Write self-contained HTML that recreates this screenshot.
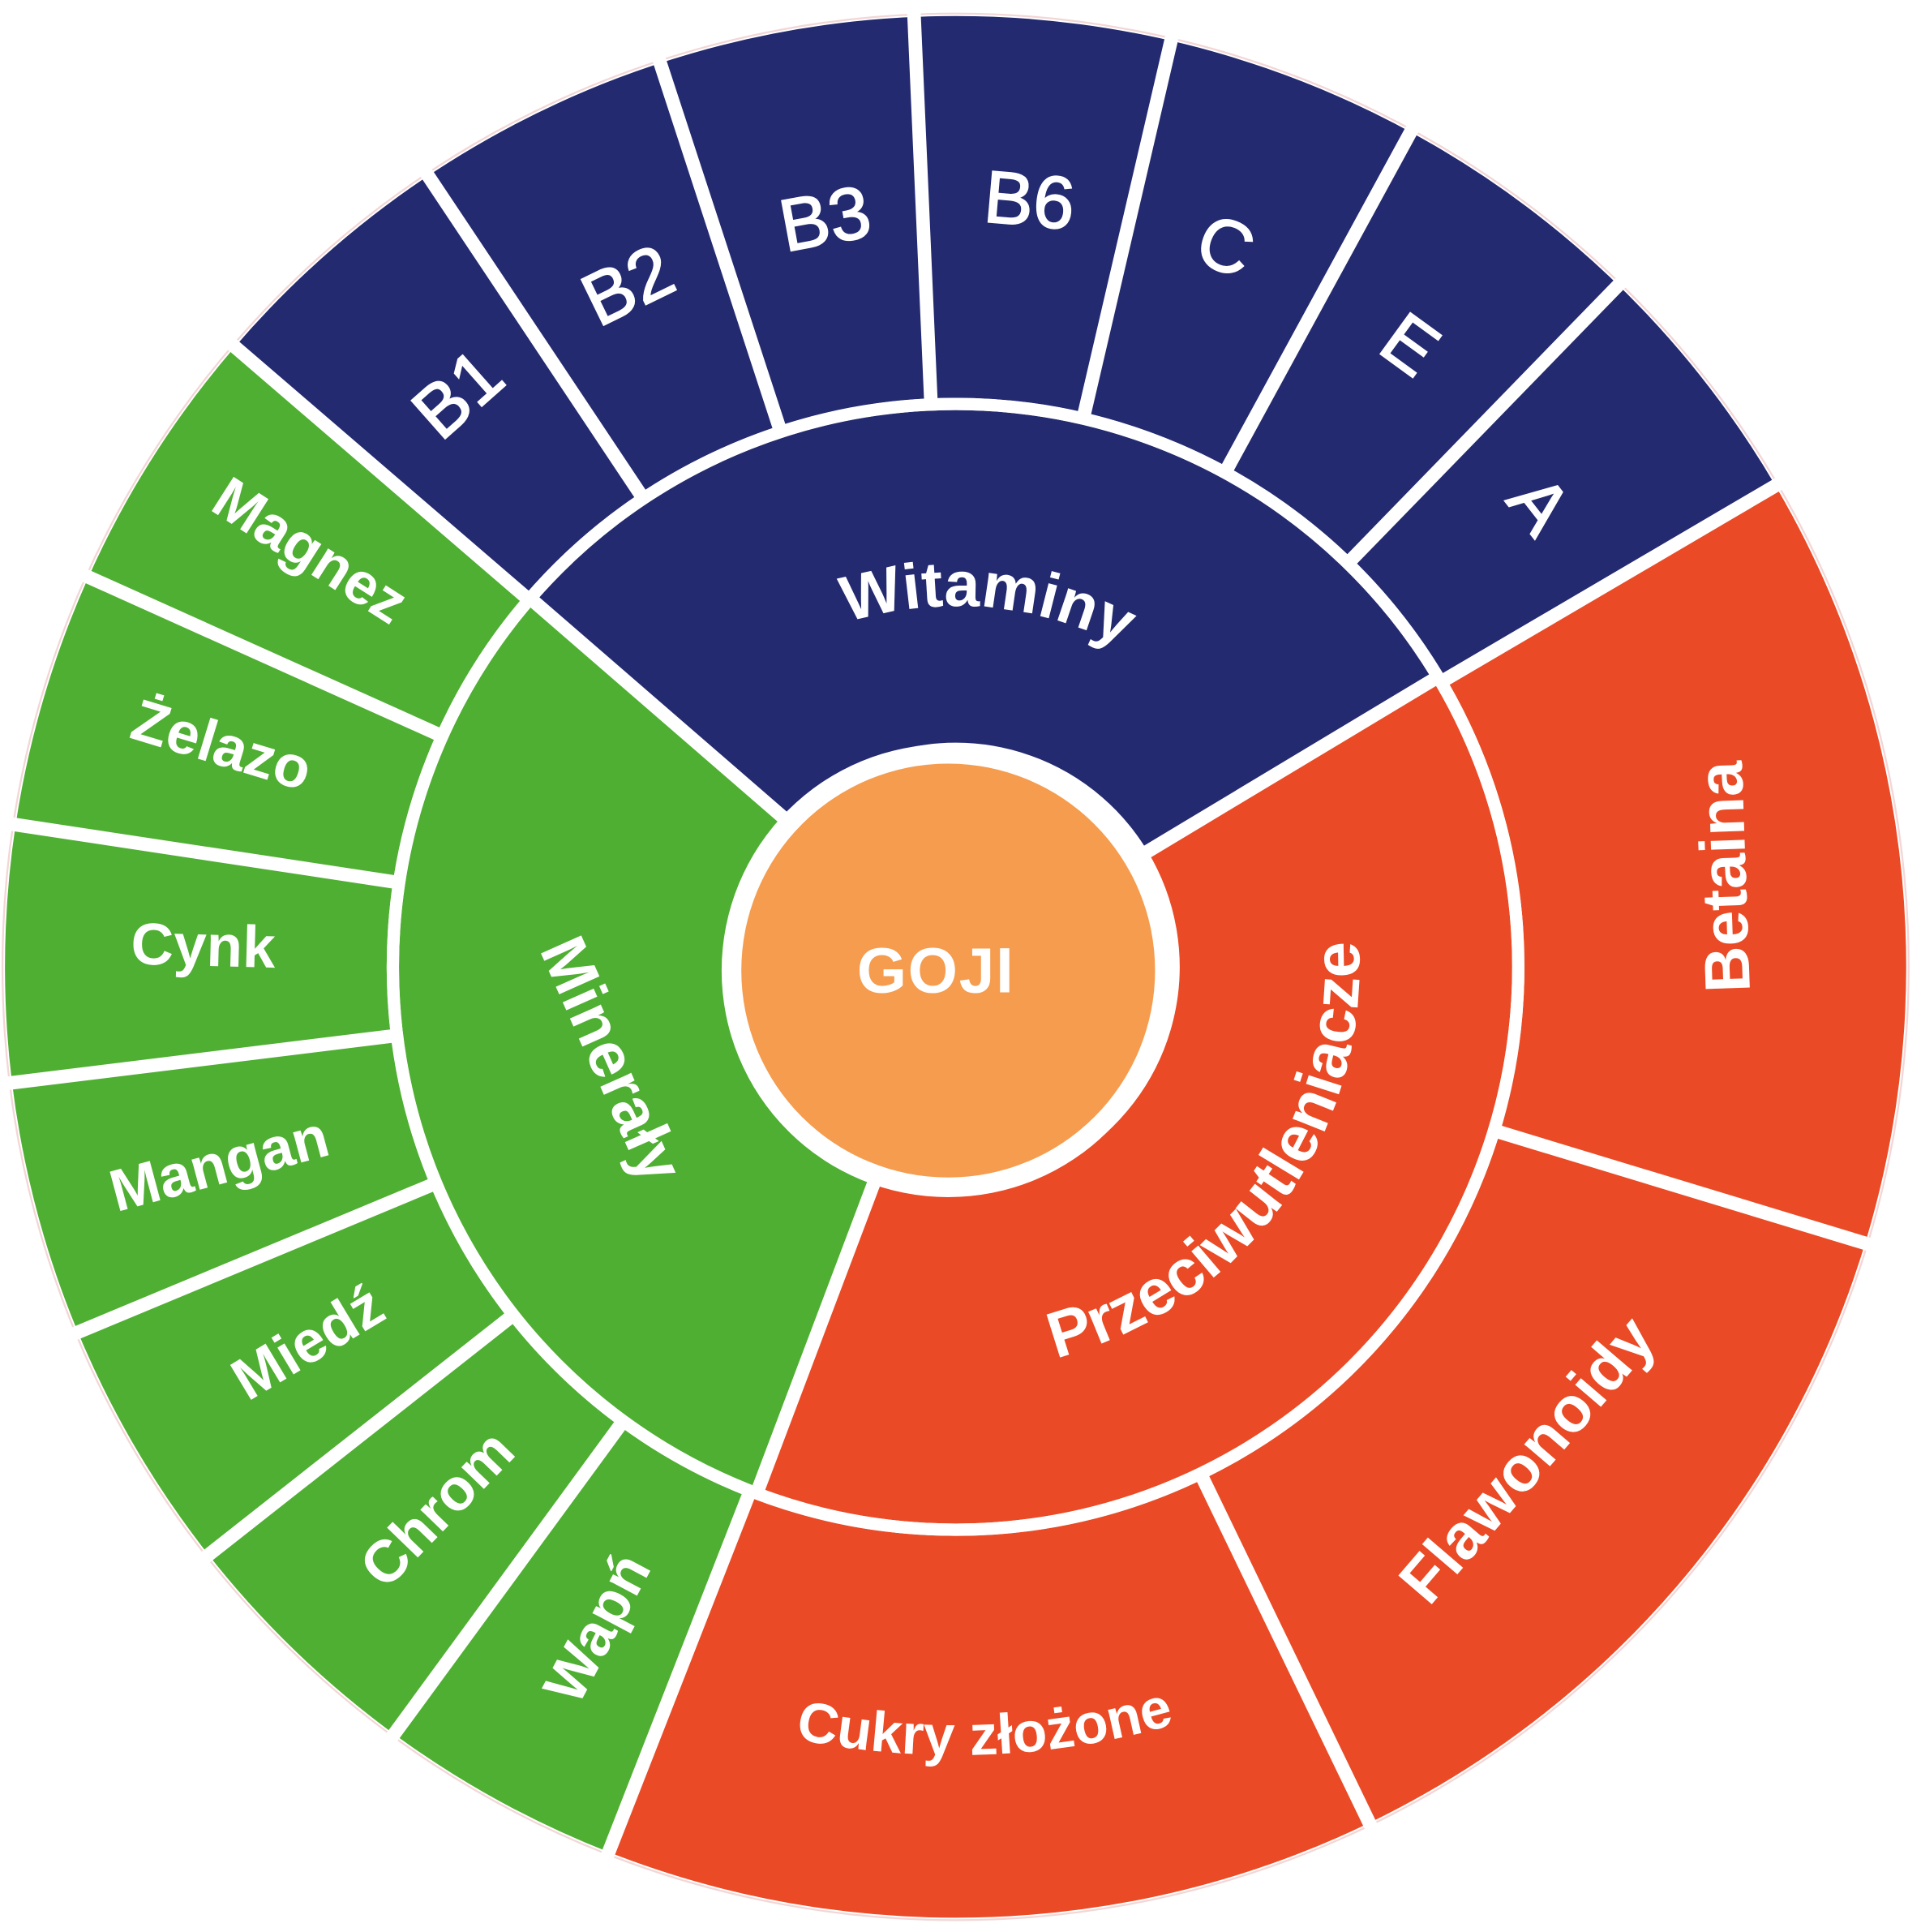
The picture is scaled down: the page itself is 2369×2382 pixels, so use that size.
<!DOCTYPE html>
<html><head><meta charset="utf-8"><style>
html,body{margin:0;padding:0;background:#fff;width:2369px;height:2382px;overflow:hidden;position:relative;}
svg{display:block;overflow:hidden;position:absolute;left:0;top:0;}
text{font-family:"Liberation Sans",sans-serif;fill:#fff;}
.b{font-weight:bold;}
.v{stroke:#fff;stroke-width:1.2;}
</style></head><body>
<svg width="2369" height="2380" viewBox="0 0 1560 1567.3" xmlns="http://www.w3.org/2000/svg">
<rect width="1560" height="1567.3" fill="#fff"/>
<g transform="translate(776,785)">
  <circle r="774" fill="#fff" stroke="#f3d6d6" stroke-width="1.5"/>
  <circle r="617" fill="none" stroke="#232a6f" stroke-width="310" pathLength="360" stroke-dasharray="108.9 360" transform="rotate(-139.3)"/>
  <circle r="617" fill="none" stroke="#ea4a25" stroke-width="310" pathLength="360" stroke-dasharray="141.8 360" transform="rotate(-30.4)"/>
  <circle r="617" fill="none" stroke="#4faf32" stroke-width="310" pathLength="360" stroke-dasharray="109.3 360" transform="rotate(111.4)"/>
  <circle r="317" fill="none" stroke="#232a6f" stroke-width="270" pathLength="360" stroke-dasharray="108.1 360" transform="rotate(-139.1)"/>
  <circle r="317" fill="none" stroke="#ea4a25" stroke-width="270" pathLength="360" stroke-dasharray="141.7 360" transform="rotate(-31)"/>
  <circle r="317" fill="none" stroke="#4faf32" stroke-width="270" pathLength="360" stroke-dasharray="110.2 360" transform="rotate(110.7)"/>
  <circle r="457" fill="none" stroke="#fff" stroke-width="10"/>
  <g stroke="#fff" stroke-width="11">
    <line x1="160" y1="0" x2="457" y2="0" transform="rotate(220.9)"/>
    <line x1="160" y1="0" x2="457" y2="0" transform="rotate(-31)"/>
    <line x1="160" y1="0" x2="457" y2="0" transform="rotate(110.7)"/>
    <line x1="455" y1="0" x2="780" y2="0" transform="rotate(220.7)"/>
    <line x1="455" y1="0" x2="780" y2="0" transform="rotate(-30.4)"/>
    <line x1="455" y1="0" x2="780" y2="0" transform="rotate(111.4)"/>
    <line x1="455" y1="0" x2="780" y2="0" transform="rotate(-123.7)"/>
    <line x1="455" y1="0" x2="780" y2="0" transform="rotate(-108.1)"/>
    <line x1="455" y1="0" x2="780" y2="0" transform="rotate(-92.5)"/>
    <line x1="455" y1="0" x2="780" y2="0" transform="rotate(-76.9)"/>
    <line x1="455" y1="0" x2="780" y2="0" transform="rotate(-61.4)"/>
    <line x1="455" y1="0" x2="780" y2="0" transform="rotate(-45.8)"/>
    <line x1="455" y1="0" x2="780" y2="0" transform="rotate(126.2)"/>
    <line x1="455" y1="0" x2="780" y2="0" transform="rotate(141.8)"/>
    <line x1="455" y1="0" x2="780" y2="0" transform="rotate(157.4)"/>
    <line x1="455" y1="0" x2="780" y2="0" transform="rotate(173.0)"/>
    <line x1="455" y1="0" x2="780" y2="0" transform="rotate(188.6)"/>
    <line x1="455" y1="0" x2="780" y2="0" transform="rotate(204.2)"/>
    <line x1="455" y1="0" x2="780" y2="0" transform="rotate(16.9)"/>
    <line x1="455" y1="0" x2="780" y2="0" transform="rotate(64.2)"/>
  </g>
</g>
<circle cx="770" cy="788" r="184" fill="#fff"/>
<circle cx="770" cy="788" r="168" fill="#f59c4e"/>
<text class="b" x="760" y="788" font-size="52" text-anchor="middle" dominant-baseline="central" letter-spacing="1">GOJI</text>

<g class="v" font-size="60" text-anchor="middle" dominant-baseline="central">
  <text transform="translate(372,320) rotate(-41.5)">B1</text>
  <text transform="translate(510,232) rotate(-26)">B2</text>
  <text transform="translate(670,178) rotate(-10.5)">B3</text>
  <text transform="translate(836,163) rotate(5)">B6</text>
  <text transform="translate(995,200) rotate(20.6)">C</text>
  <text transform="translate(1145,280) rotate(36)">E</text>
  <text transform="translate(1250,410) rotate(52)">A</text>
</g>
<g class="b" font-size="48" text-anchor="middle" dominant-baseline="central">
  <text transform="translate(252,447) rotate(32.6)">Magnez</text>
  <text transform="translate(180,605) rotate(17)">Żelazo</text>
  <text transform="translate(165,768) rotate(1.5)">Cynk</text>
  <text transform="translate(178,945) rotate(-15)">Mangan</text>
  <text transform="translate(250,1090) rotate(-31)">Miedź</text>
  <text transform="translate(355,1225) rotate(-46)">Chrom</text>
  <text transform="translate(485,1322) rotate(-62)">Wapń</text>
</g>
<g class="b" font-size="52" text-anchor="middle" dominant-baseline="central">
  <text transform="translate(1400,712) rotate(-92)">Betaina</text>
  <text transform="translate(1240,1185) rotate(-49.4)">Flawonoidy</text>
  <text transform="translate(497,860) rotate(66)">Minerały</text>
</g>
<defs>
  <path id="pCukry" d="M 429.3 1323 A 640 640 0 0 0 1162.9 1294.8"/>
  <path id="pPrz" d="M 685.6 1100.3 A 328 328 0 0 0 1047.9 601.6"/>
  <path id="pWit" d="M 629.5 531.3 A 293 293 0 0 1 964.3 560.6"/>
</defs>
<text class="b" font-size="46" text-anchor="middle"><textPath href="#pCukry" startOffset="50%">Cukry złożone</textPath></text>
<text class="b" font-size="53" text-anchor="middle"><textPath href="#pPrz" startOffset="50%">Przeciwutleniacze</textPath></text>
<text class="b" font-size="52" text-anchor="middle"><textPath href="#pWit" startOffset="50%">Witaminy</textPath></text>
</svg>
</body></html>
